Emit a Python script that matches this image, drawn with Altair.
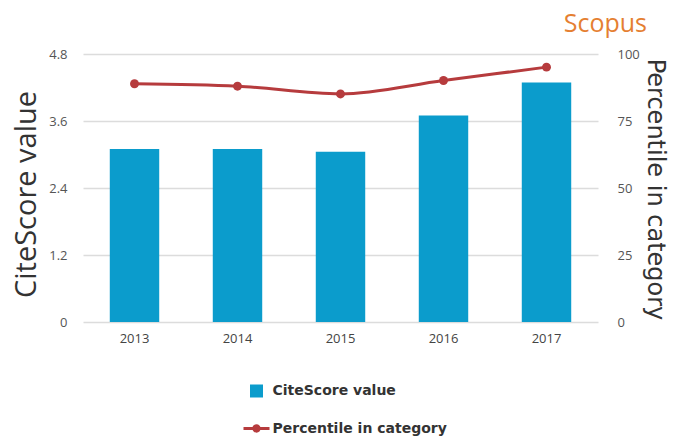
import altair as alt
import pandas as pd

years = ["2013", "2014", "2015", "2016", "2017"]
citescore = [3.10, 3.10, 3.05, 3.70, 4.29]
percentile = [88.9, 88.0, 85.1, 90.1, 95.1]
left_ticks = [0, 1.2, 2.4, 3.6, 4.8]
right_ticks = [0, 25, 50, 75, 100]
brand = ["Scopus"]

df = pd.DataFrame({
    "year": years,
    "cs": citescore,
    "pct": percentile,
    "s1": ["CiteScore value"] * 5,
    "s2": ["Percentile in category"] * 5,
})

BAR = "#0b9ccc"
LINE = "#b63b3d"
FONT = "Open Sans"

xenc = alt.X(
    "year:N",
    scale=alt.Scale(paddingInner=0.52, paddingOuter=0.26),
    axis=alt.Axis(title=None, labelAngle=0, labelFont=FONT, labelFontSize=13,
                  labelColor="#444", labelPadding=10, ticks=False, domain=False),
)

bars = alt.Chart(df).mark_bar().encode(
    x=xenc,
    y=alt.Y("cs:Q", scale=alt.Scale(domain=[0, 4.8], nice=False),
            axis=alt.Axis(values=left_ticks,
                          labelExpr="datum.value == 0 ? '0' : format(datum.value, '.1f')",
                          title="CiteScore value",
                          labelFont=FONT, labelFontSize=13, labelColor="#555",
                          labelPadding=16, ticks=False, domain=False,
                          grid=True, gridColor="#dcdcdc", gridWidth=1.5,
                          titleFont=FONT, titleFontSize=29, titleFontWeight="normal",
                          titleColor="#333", titleAngle=-90, titleX=-57, titleY=140,
                          titleAlign="center", titleBaseline="middle")),
    color=alt.Color("s1:N", scale=alt.Scale(domain=["CiteScore value"], range=[BAR]),
                    legend=alt.Legend(title=None, orient="none", legendX=166.5, legendY=330,
                                      symbolType="square", symbolSize=169, symbolStrokeWidth=0,
                                      labelFont="DejaVu Sans", labelFontWeight="bold",
                                      labelFontSize=14, labelColor="#333", labelOffset=9,
                                      labelLimit=300, padding=0)),
)

yr = alt.Y("pct:Q", scale=alt.Scale(domain=[0, 100], nice=False),
           axis=alt.Axis(values=right_ticks, orient="right", title="Percentile in category",
                         labelFont=FONT, labelFontSize=13, labelColor="#555",
                         labelPadding=19, ticks=False, domain=False, grid=False,
                         titleFont="DejaVu Sans", titleFontSize=24, titleFontWeight="normal",
                         titleColor="#333", titleAngle=90, titleX=56, titleY=135,
                         titleAlign="center", titleBaseline="middle"))

line = alt.Chart(df).mark_line(color=LINE, strokeWidth=3, interpolate="monotone").encode(
    x=alt.X("year:N"),
    y=yr,
)

legend_path = ("M-1,-0.12L1,-0.12L1,0.12L-1,0.12Z "
               "M0.32,0A0.32,0.32 0 1 1 -0.32,0A0.32,0.32 0 1 1 0.32,0Z")

points = alt.Chart(df).mark_point(filled=True, size=80, opacity=1).encode(
    x=alt.X("year:N"),
    y=yr,
    color=alt.Color("s2:N", scale=alt.Scale(domain=["Percentile in category"], range=[LINE]),
                    legend=alt.Legend(title=None, orient="none", legendX=160.5, legendY=361.5,
                                      symbolType=legend_path, symbolSize=676,
                                      symbolStrokeWidth=0, symbolOpacity=1,
                                      labelFont="DejaVu Sans", labelFontWeight="bold",
                                      labelFontSize=14, labelColor="#333", labelOffset=3,
                                      labelLimit=300, padding=0)),
)

right = alt.layer(line, points)

logo = alt.Chart(pd.DataFrame({"t": brand})).mark_text(
    font=FONT, fontSize=25, color="#e57f32", align="right", baseline="alphabetic"
).encode(text="t:N", x=alt.value(564), y=alt.value(-22))

chart = alt.layer(bars, right, logo).resolve_scale(
    y="independent", color="independent"
).resolve_legend(color="independent").properties(
    width=515,
    height=268,
    padding={"left": 75, "top": 46, "right": 71, "bottom": 117},
    autosize=alt.AutoSizeParams(type="none"),
).configure_view(stroke=None)

chart.save("out.html", embed_options={"renderer": "svg", "actions": False})
